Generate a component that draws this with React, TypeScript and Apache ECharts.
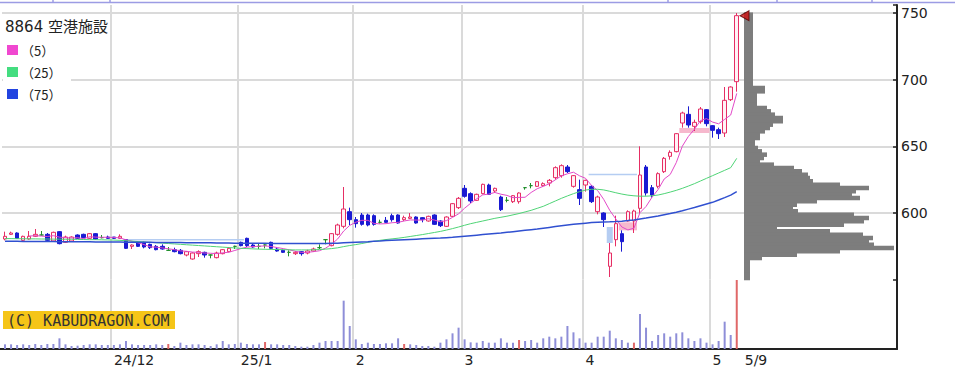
import React, { useEffect, useRef } from 'react';
import * as echarts from 'echarts';

// ---------- data ----------
const title = '8864 空港施設';
const maNames = ['（5）', '（25）', '（75）'];
const watermark = '(C) KABUDRAGON.COM';

const monthDays: [string, number[]][] = [
  ['2024/11', [6, 7, 8, 11, 12, 13, 14, 15, 18, 19, 20, 21, 22, 25, 26, 27, 28, 29]],
  ['2024/12', [2, 3, 4, 5, 6, 9, 10, 11, 12, 13, 16, 17, 18, 19, 20, 23, 24, 25, 26, 27, 30]],
  ['2025/01', [6, 7, 8, 9, 10, 14, 15, 16, 17, 20, 21, 22, 23, 24, 27, 28, 29, 30, 31]],
  ['2025/02', [3, 4, 5, 6, 7, 10, 12, 13, 14, 17, 18, 19, 20, 21, 25, 26, 27, 28]],
  ['2025/03', [3, 4, 5, 6, 7, 10, 11, 12, 13, 14, 17, 18, 19, 21, 24, 25, 26, 27, 28, 31]],
  ['2025/04', [1, 2, 3, 4, 7, 8, 9, 10, 11, 14, 15, 16, 17, 18, 21, 22, 23, 24, 25, 28, 30]],
  ['2025/05', [1, 2, 7, 8, 9]],
];
const EMPTY_SLOTS = 26;

const tickLabels: Record<string, string> = {
  '2024/12/02': '24/12',
  '2025/01/06': '25/1',
  '2025/02/03': '2',
  '2025/03/03': '3',
  '2025/04/01': '4',
  '2025/05/01': '5',
  '2025/05/09': '5/9',
};
const monthStarts = ['2024/12/02', '2025/01/06', '2025/02/03', '2025/03/03', '2025/04/01', '2025/05/01'];
const sqDays = ['2024/12/13', '2025/01/10', '2025/02/14', '2025/03/14', '2025/04/11', '2025/05/09'];

const opens = [
  580.5, 584, 585, 579.5, 580.5, 582.5, 583.5, 584, 579, 586,
  578, 579, 583.5, 584, 581, 584.5, 581.5, 582, 582, 581,
  580, 575, 578, 578, 576.5, 575, 575, 572, 572.5, 572,
  568.5, 565.5, 569.5, 570.5, 568.5, 566.5, 569.5, 571, 575, 578,
  581, 576, 575, 576, 578, 573, 572, 570.5, 569.5, 571,
  570, 571.5, 574, 580, 575.5, 584, 590, 601, 595, 598.5,
  598.5, 598, 593, 594.5, 598, 598.5, 595, 596, 597, 596.5,
  594, 598.5, 594, 590, 597.5, 604, 618.5, 614.5, 609.5, 614.5,
  621, 616.5, 612, 609.5, 608.5, 608.5, 619, 620.5, 620, 620.5,
  622.5, 626.5, 628, 634.5, 620, 617.5, 621, 620, 601, 600,
  560, 580, 584.5, 594, 594, 603.5, 634.5, 619, 620, 631,
  642.5, 646, 667.5, 674, 665, 668.5, 677.5, 665.5, 662.5, 660,
  685, 698.5,
];
const closes = [
  582.5, 585, 581, 582.5, 582.5, 584, 583.5, 579.5, 585.5, 577,
  582, 582, 581, 581.5, 584.5, 580.5, 581.5, 581, 581, 582.5,
  573.5, 576, 575, 574.5, 574, 572.5, 573, 572, 571, 569.5,
  571, 570, 571, 568.5, 568.5, 570, 572.5, 573.5, 575, 575.5,
  575.5, 574.5, 575, 576, 573.5, 571.5, 570.5, 570.5, 570.5, 569.5,
  571.5, 573, 574, 580, 584.5, 591, 603, 595, 592, 591.5,
  591, 591.5, 593, 593, 595, 592.5, 596.5, 597, 592.5, 595,
  597.5, 591.5, 590.5, 597, 607, 611, 612.5, 609, 614, 621.5,
  614, 618.5, 602.5, 609.5, 613, 615, 619, 620.5, 623.5, 622,
  624.5, 634, 635.5, 631, 628, 611, 624.5, 608.5, 612, 595,
  570, 592, 578.5, 601, 601.5, 628.5, 615, 613.5, 629.5, 641,
  645.5, 659.5, 675, 666, 668, 678, 667, 662, 659.5, 684.5,
  694.5, 748,
];
const lows = [
  579.5, 583.5, 580.5, 579, 580, 582, 583, 579, 578.5, 576.5,
  577.5, 578.5, 580.5, 581, 580.5, 580, 581, 580.5, 580.5, 580.5,
  573, 573, 574.5, 573.5, 573, 572, 572.5, 571.5, 570.5, 569,
  567.5, 565, 567, 566.5, 566, 566, 569, 570.5, 573, 575,
  574.5, 574, 573, 573.5, 573, 571, 570, 567.5, 568.5, 568,
  569, 571, 573, 576.5, 575, 583, 588.5, 591, 589, 590.5,
  590, 590.5, 592, 592.5, 593.5, 592, 594, 595.5, 592, 593,
  593.5, 591, 589.5, 589.5, 597, 603, 611.5, 607.5, 609, 614,
  613.5, 615, 601.5, 608, 607.5, 607, 617.5, 618.5, 619.5, 619.5,
  620, 625, 626.5, 630, 619, 606, 616, 607.5, 599, 589.5,
  552, 575, 571, 593.5, 585, 599.5, 613, 611.5, 618.5, 630,
  640, 645.5, 664, 664, 661.5, 667, 665, 656.5, 655.5, 657,
  684, 691,
];
const highs = [
  586, 586, 585.5, 583, 586.5, 588, 586.5, 585, 586, 586.5,
  583, 582.5, 584, 584.5, 585, 585, 583.5, 583, 582, 584,
  580, 576.5, 578.5, 578.5, 577, 576, 576.5, 574.5, 574, 573,
  571.5, 570.5, 572, 571, 569, 571, 573, 574.5, 575.5, 578.5,
  581.5, 577.5, 577, 576.5, 578.5, 574, 572.5, 572, 571.5, 571.5,
  572.5, 574, 576.5, 580.5, 585, 592, 619.5, 604, 597, 600,
  599.5, 599, 595, 597, 599.5, 599, 598, 600, 597.5, 597,
  598, 599, 594.5, 597.5, 607.5, 612, 621, 615.5, 614.5, 622,
  622, 619, 613, 612, 613.5, 615.5, 619.5, 622.5, 624, 623,
  625.5, 635, 636.5, 636, 628.5, 625, 625, 621, 613, 600.5,
  577.5, 598, 587, 602, 602.5, 650, 636, 621, 630.5, 642,
  647, 660, 676, 680, 670, 679.5, 678, 666, 664, 694.5,
  695, 750,
];
const volumes = [
  28, 28, 24, 28, 24, 30, 24, 30, 30, 64,
  28, 18, 20, 24, 28, 28, 24, 24, 24, 28,
  48, 28, 24, 24, 24, 28, 24, 30, 18, 38,
  24, 28, 28, 24, 18, 28, 48, 28, 30, 38,
  30, 28, 28, 42, 28, 28, 24, 24, 18, 14,
  14, 24, 38, 48, 48, 48, 290, 138, 58, 30,
  38, 30, 30, 34, 34, 64, 30, 28, 24, 18,
  18, 14, 38, 58, 94, 128, 58, 40, 38, 48,
  38, 38, 64, 38, 38, 54, 48, 54, 38, 64,
  74, 64, 74, 138, 100, 64, 38, 38, 74, 74,
  110, 64, 54, 38, 38, 210, 128, 48, 84, 94,
  74, 94, 100, 64, 48, 64, 38, 28, 48, 164,
  84, 414,
];
const ma25 = [
  580.8, 580.8, 580.7, 580.7, 580.6, 580.6, 580.5, 580.5, 580.4, 580.4,
  580.3, 580.3, 580.2, 580.1, 580.0, 580.0, 579.9, 579.8, 579.7,
  579.5, 579.2, 578.9, 578.6, 578.3, 578.0, 577.7, 577.4, 577.1, 576.8,
  576.5, 576.2, 575.9, 575.6, 575.3, 575.0, 574.7, 574.4, 574.1, 573.8, 573.5,
  573.3, 573.1, 572.9, 572.8, 572.7, 572.6, 572.5, 572.4, 572.3, 572.3,
  572.3, 572.4, 572.6, 572.9,
  573.3, 573.9, 574.8, 575.6, 576.3, 577.1, 578.0, 578.8, 579.5, 580.1,
  580.6, 581.1, 581.7, 582.4, 583.1, 583.8, 584.6, 585.4, 586.2, 587.2, 588.3, 589.5,
  590.8, 592.0, 593.0, 594.0, 595.0, 596.0, 596.8, 597.6, 598.6, 599.6,
  600.8, 602.0, 603.5, 605.0, 607.0, 609.0, 611.0, 612.8, 614.5, 616.0,
  617.2, 617.8, 617.8, 617.3, 616.3, 615.2, 614.2, 613.4, 612.9, 612.6,
  612.6, 612.9, 613.5, 614.5, 615.7, 617.0, 618.5, 620.2, 622.0, 624.0,
  626.0, 628.0, 630.0, 632.0, 634.0, 641.0,
];
const ma75 = [
  578.8, 578.8, 578.8, 578.7, 578.7, 578.7, 578.6, 578.6, 578.6, 578.5,
  578.5, 578.5, 578.4, 578.4, 578.4, 578.3, 578.3, 578.3, 578.2, 578.2,
  578.1, 578.1, 578.0, 578.0, 578.0, 577.9, 577.9, 577.8, 577.8, 577.8,
  577.7, 577.7, 577.6, 577.6, 577.6, 577.5, 577.5, 577.5, 577.4, 577.4,
  577.4, 577.3, 577.3, 577.3, 577.2, 577.2, 577.2, 577.1, 577.1, 577.1,
  577.1, 577.1, 577.1, 577.2, 577.3, 577.4,
  577.7, 577.9, 578.1, 578.3, 578.5, 578.8, 579.0, 579.3, 579.6, 579.8,
  580.0, 580.2, 580.4, 580.6, 580.8, 581.0, 581.2, 581.5, 581.8, 582.2,
  582.6, 583.0, 583.4, 583.8, 584.2, 584.6, 585.0, 585.5, 586.0, 586.5,
  587.0, 587.5, 588.0, 588.6, 589.2, 589.8, 590.4, 591.0, 591.5, 592.0,
  592.4, 592.8, 593.1, 593.3, 593.4, 593.6, 593.9, 594.3, 594.8, 595.5,
  596.2, 597.0, 597.8, 598.7, 599.6, 600.6, 601.7, 602.9, 604.1, 605.4,
  606.7, 608.0, 609.7, 611.5, 613.4, 616.0,
];

// price-by-volume profile, bins of 2.5 from 750 downward
const PROFILE_TOP = 750;
const PROFILE_STEP = 2.5;
const profileVol = [
  9, 9, 9, 9, 9, 9, 9, 9, 9, 9, 9, 9, 9, 9, 9, 9, 9, 9, 9, 9, 9, 9,
  21, 21, 13, 13, 13, 13, 23, 27, 31, 39, 39, 29, 26, 21, 16, 16, 11, 11,
  14, 18, 23, 20, 16, 30, 50, 58, 64, 66, 69, 96, 125, 112, 108, 116, 73, 53, 49, 54,
  110, 125, 120, 100, 33, 86, 119, 129, 125, 130, 150, 96, 53, 18, 6, 6, 6, 6, 6, 6,
];

// price gaps (window markers): start index, end index, low, high, direction (1 up, -1 down)
const gapStart = [20, 97, 100, 102, 112];
const gapEnd = [39, 104, 100, 104, 116];
const gapLow = [580.0, 628.5, 577.5, 587.0, 660.0];
const gapHigh = [580.5, 629.5, 589.5, 593.0, 663.75];
const gapDir = [-1, -1, -1, 1, 1];

// ---------- derived ----------
const dates: string[] = [];
monthDays.forEach(([m, ds]) => ds.forEach((d) => dates.push(`${m}/${String(d).padStart(2, '0')}`)));
const categories: string[] = dates.concat(Array.from({ length: EMPTY_SLOTS }, (_, k) => `pad${k}`));
const monthStartIdx = new Set(monthStarts.map((d) => categories.indexOf(d)));
const sqSet = new Set(sqDays);

const candleData = opens.map((o, i) => [o, closes[i], lows[i], highs[i]]);
const ma5 = closes.map((_, i) =>
  i < 4 ? '-' : +((closes[i] + closes[i - 1] + closes[i - 2] + closes[i - 3] + closes[i - 4]) / 5).toFixed(2)
);
const volData = volumes.map((v, i) => ({
  value: v,
  itemStyle: { color: sqSet.has(dates[i]) ? '#e06868' : '#8e8ed8' },
}));
const profileData = profileVol.map((v, k) => [PROFILE_TOP - (k + 1) * PROFILE_STEP, PROFILE_TOP - k * PROFILE_STEP, v]);
const gapData = gapStart.map((s, i) => [s, gapEnd[i], gapLow[i], gapHigh[i]]);
const lastClose = closes[closes.length - 1];

const FONT = '"DejaVu Sans", "Noto Sans CJK JP", sans-serif';
const GRID_LINE = { color: '#dadada', width: 2 };
const AXIS_LINE = { color: '#222', width: 2 };

const option: any = {
  animation: false,
  backgroundColor: '#fff',
  grid: [
    { left: 2, right: 58, top: 5, height: 274.67 },
    { left: 2, right: 58, top: 280, height: 69 },
    { left: 744, right: 58, top: 5, height: 274.67 },
  ],
  xAxis: [
    {
      type: 'category', gridIndex: 0, data: categories, boundaryGap: true,
      axisLine: { show: false }, axisTick: { show: false }, axisLabel: { show: false },
      splitLine: { show: true, interval: (i: number) => monthStartIdx.has(i), lineStyle: GRID_LINE },
    },
    {
      type: 'category', gridIndex: 1, data: categories, boundaryGap: true,
      axisLine: { show: true, lineStyle: AXIS_LINE }, axisTick: { show: false },
      axisLabel: {
        interval: (i: number, v: string) => !!tickLabels[v],
        formatter: (v: string) => (tickLabels[v] ? (v === '2025/05/09' ? `{e|${tickLabels[v]}}` : tickLabels[v]) : ''),
        align: 'left', color: '#222', fontSize: 14, fontFamily: FONT, margin: 4,
        rich: { e: { padding: [0, 0, 0, 8], color: '#222', fontSize: 14, fontFamily: FONT } },
      },
      splitLine: { show: true, interval: (i: number) => monthStartIdx.has(i), lineStyle: GRID_LINE },
    },
    { type: 'value', gridIndex: 2, min: 0, max: 153, show: false },
  ],
  yAxis: [
    {
      type: 'value', gridIndex: 0, position: 'right', min: 550, max: 756, interval: 50, scale: false,
      axisLine: { show: true, lineStyle: AXIS_LINE },
      axisTick: { show: true, inside: true, length: 4, lineStyle: { color: '#222', width: 1.5 } },
      axisLabel: {
        formatter: (v: number) => (v >= 600 && v <= 750 && v % 50 === 0 ? String(v) : ''),
        color: '#222', fontSize: 14, fontFamily: FONT, margin: 4,
      },
      splitLine: { show: true, showMinLine: false, showMaxLine: false, lineStyle: GRID_LINE },
    },
    {
      type: 'value', gridIndex: 1, position: 'right', min: 0, max: 414,
      axisLine: { show: true, lineStyle: AXIS_LINE }, axisTick: { show: false },
      axisLabel: { show: false }, splitLine: { show: false },
    },
    { type: 'value', gridIndex: 2, min: 550, max: 756, show: false },
  ],
  series: [
    {
      type: 'custom', name: 'gaps', xAxisIndex: 0, yAxisIndex: 0, z: 1, silent: true,
      data: gapData,
      encode: { x: [0, 1], y: [2, 3] },
      renderItem: (params: any, api: any) => {
        const s = api.value(0), e = api.value(1), lo = api.value(2), hi = api.value(3);
        const bw = api.size([1, 0])[0];
        const a = api.coord([s, hi]);
        const b = api.coord([e, lo]);
        return {
          type: 'rect',
          shape: { x: a[0] - bw / 2, y: a[1], width: b[0] - a[0] + bw, height: Math.max(b[1] - a[1], 1.5) },
          style: { fill: gapDir[params.dataIndex] > 0 ? '#f6b8cd' : '#b5cdf2' },
        };
      },
    },
    {
      type: 'candlestick', name: 'price', xAxisIndex: 0, yAxisIndex: 0, z: 3,
      data: candleData, barWidth: 4,
      itemStyle: {
        color: '#fff2f6', color0: '#1a1ad2',
        borderColor: '#e62e64', borderColor0: '#1a1ad2', borderColorDoji: '#1f8f2a', borderWidth: 1,
      },
    },
    {
      type: 'line', name: 'MA5', xAxisIndex: 0, yAxisIndex: 0, data: ma5, z: 4,
      symbol: 'none', lineStyle: { color: '#e24ac8', width: 1 },
    },
    {
      type: 'line', name: 'MA25', xAxisIndex: 0, yAxisIndex: 0, data: ma25, z: 4,
      symbol: 'none', lineStyle: { color: '#4fd476', width: 1 },
    },
    {
      type: 'line', name: 'MA75', xAxisIndex: 0, yAxisIndex: 0, data: ma75, z: 4,
      symbol: 'none', lineStyle: { color: '#3050d0', width: 1.5 },
    },
    {
      type: 'bar', name: 'volume', xAxisIndex: 1, yAxisIndex: 1, data: volData, barWidth: 2,
    },
    {
      type: 'custom', name: 'profile', xAxisIndex: 2, yAxisIndex: 2, silent: true,
      data: profileData,
      encode: { x: 2, y: [0, 1] },
      renderItem: (params: any, api: any) => {
        const lo = api.value(0), hi = api.value(1), v = api.value(2);
        const a = api.coord([0, hi]);
        const b = api.coord([v, lo]);
        return {
          type: 'rect',
          shape: { x: a[0], y: a[1] - 0.6, width: b[0] - a[0], height: b[1] - a[1] + 1.2 },
          style: { fill: '#7d7d7d', stroke: 'none' },
        };
      },
    },
    {
      type: 'scatter', name: 'last', xAxisIndex: 2, yAxisIndex: 2, z: 5,
      data: [[0.5, lastClose]],
      symbol: 'path://M10 0 L0 5 L10 10 Z', symbolSize: [9, 10],
      itemStyle: { color: '#d01212', borderColor: '#5a0000', borderWidth: 1 },
    },
  ],
  graphic: [
    { type: 'line', shape: { x1: 0, y1: 2.5, x2: 955, y2: 2.5 }, style: { stroke: '#9c9ce4', lineWidth: 1.5 }, silent: true },
    ...[53, 110, 668, 777, 872].map((x) => ({
      type: 'line', shape: { x1: x, y1: 0, x2: x, y2: 3 }, style: { stroke: '#9c9ce4', lineWidth: 1.5 }, silent: true,
    })),
    { type: 'line', shape: { x1: 0, y1: 349, x2: 3, y2: 349 }, style: { stroke: '#222', lineWidth: 2 }, silent: true },
    { type: 'rect', shape: { x: 3, y: 15, width: 68, height: 90 }, style: { fill: '#fff' }, silent: true, z: 10 },
    {
      type: 'text', x: 5, y: 27, z: 11, silent: true,
      style: { text: title, fill: '#222', font: `15px ${FONT}`, verticalAlign: 'middle' },
    },
    ...maNames.flatMap((name, k) => {
      const colors = ['#f048d0', '#44dd80', '#2244e0'];
      const cy = 50 + k * 22;
      return [
        { type: 'rect', shape: { x: 7, y: cy - 5, width: 11, height: 10 }, style: { fill: colors[k] }, z: 11, silent: true },
        {
          type: 'text', x: 21, y: cy, z: 11, silent: true,
          style: { text: name, fill: '#222', font: '13px "Noto Sans CJK JP", sans-serif', verticalAlign: 'middle' },
        },
      ];
    }),
    { type: 'rect', shape: { x: 3, y: 311, width: 172, height: 18 }, style: { fill: '#f5c518' }, z: 10, silent: true },
    {
      type: 'text', x: 7, y: 320.5, z: 11, silent: true,
      style: { text: watermark, fill: '#333', font: '15px "DejaVu Sans Mono", monospace', verticalAlign: 'middle' },
    },
  ],
};

export default function App() {
  const ref = useRef<HTMLDivElement>(null);
  useEffect(() => {
    if (!ref.current) return;
    const chart = echarts.init(ref.current, null, { renderer: 'svg' });
    chart.setOption(option);
    return () => chart.dispose();
  }, []);
  return (
    <div
      ref={ref}
      style={{ position: 'fixed', left: 0, top: 0, width: 955, height: 369, background: '#fff' }}
    />
  );
}
